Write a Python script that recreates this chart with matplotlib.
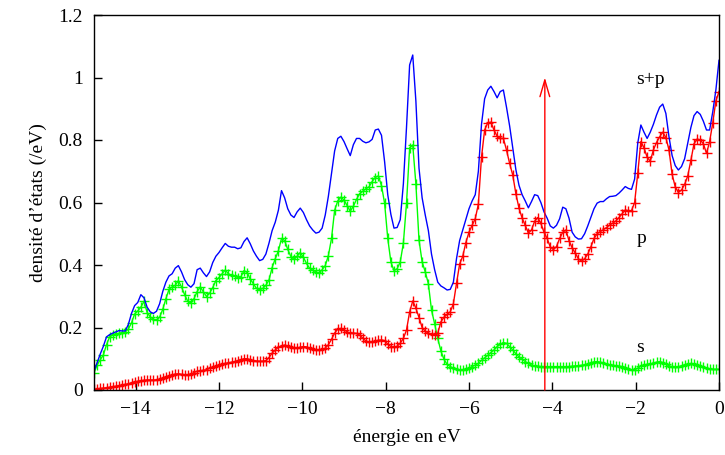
import numpy as np
import matplotlib
matplotlib.use("Agg")
import matplotlib.pyplot as plt

# energy grid (eV), 201 sample points from -15 to 0
energy = np.linspace(-15.0, 0.0, 201)

# s density of states (green)
dos_s = [
    0.055, 0.080, 0.097, 0.112, 0.145, 0.170, 0.176, 0.179, 0.181, 0.183,
    0.186, 0.195, 0.215, 0.243, 0.253, 0.265, 0.284, 0.248, 0.234, 0.226,
    0.224, 0.233, 0.258, 0.292, 0.322, 0.330, 0.335, 0.350, 0.330, 0.305,
    0.284, 0.278, 0.292, 0.315, 0.330, 0.314, 0.299, 0.310, 0.328, 0.350,
    0.360, 0.372, 0.384, 0.372, 0.367, 0.365, 0.360, 0.362, 0.382, 0.376,
    0.355, 0.340, 0.325, 0.321, 0.325, 0.335, 0.352, 0.392, 0.420, 0.445,
    0.485, 0.478, 0.450, 0.427, 0.418, 0.428, 0.440, 0.425, 0.405, 0.389,
    0.384, 0.378, 0.373, 0.385, 0.398, 0.430, 0.485, 0.575, 0.605, 0.617,
    0.608, 0.590, 0.572, 0.588, 0.610, 0.628, 0.636, 0.644, 0.650, 0.667,
    0.680, 0.685, 0.654, 0.597, 0.485, 0.410, 0.382, 0.388, 0.410, 0.470,
    0.597, 0.775, 0.784, 0.660, 0.480, 0.410, 0.378, 0.340, 0.256, 0.212,
    0.165, 0.125, 0.098, 0.082, 0.075, 0.070, 0.066, 0.064, 0.065, 0.067,
    0.070, 0.075, 0.080, 0.085, 0.095, 0.103, 0.111, 0.120, 0.128, 0.139,
    0.146, 0.152, 0.149, 0.139, 0.128, 0.116, 0.106, 0.098, 0.091, 0.085,
    0.080, 0.077, 0.076, 0.075, 0.075, 0.075, 0.075, 0.075, 0.075, 0.075,
    0.075, 0.075, 0.075, 0.076, 0.077, 0.078, 0.079, 0.080, 0.083, 0.087,
    0.090, 0.091, 0.089, 0.086, 0.083, 0.081, 0.079, 0.077, 0.076, 0.075,
    0.072, 0.068, 0.065, 0.065, 0.070, 0.076, 0.080, 0.082, 0.084, 0.086,
    0.089, 0.091, 0.088, 0.083, 0.077, 0.075, 0.075, 0.075, 0.077, 0.080,
    0.083, 0.085, 0.084, 0.081, 0.077, 0.073, 0.069, 0.066, 0.066, 0.066,
    0.066,
]

# p density of states (red)
dos_p = [
    0.002, 0.003, 0.005, 0.006, 0.007, 0.009, 0.011, 0.012, 0.014, 0.015,
    0.018, 0.020, 0.023, 0.026, 0.028, 0.030, 0.031, 0.032, 0.032, 0.032,
    0.032, 0.034, 0.038, 0.042, 0.045, 0.048, 0.051, 0.052, 0.050, 0.049,
    0.048, 0.051, 0.056, 0.060, 0.062, 0.063, 0.065, 0.069, 0.073, 0.076,
    0.079, 0.082, 0.085, 0.087, 0.089, 0.091, 0.094, 0.097, 0.100, 0.100,
    0.097, 0.094, 0.093, 0.092, 0.092, 0.094, 0.104, 0.118, 0.128, 0.137,
    0.141, 0.144, 0.141, 0.137, 0.133, 0.134, 0.137, 0.139, 0.138, 0.134,
    0.130, 0.128, 0.128, 0.130, 0.134, 0.145, 0.162, 0.182, 0.195, 0.197,
    0.193, 0.186, 0.181, 0.182, 0.181, 0.176, 0.166, 0.157, 0.154, 0.153,
    0.156, 0.159, 0.160, 0.158, 0.147, 0.139, 0.137, 0.140, 0.150, 0.165,
    0.192, 0.250, 0.285, 0.262, 0.232, 0.200, 0.188, 0.182, 0.179, 0.176,
    0.182, 0.218, 0.233, 0.242, 0.250, 0.276, 0.341, 0.403, 0.428, 0.472,
    0.505, 0.527, 0.548, 0.595, 0.745, 0.832, 0.855, 0.857, 0.832, 0.812,
    0.805, 0.805, 0.768, 0.725, 0.688, 0.628, 0.582, 0.550, 0.527, 0.502,
    0.512, 0.540, 0.552, 0.533, 0.505, 0.485, 0.458, 0.449, 0.459, 0.485,
    0.505, 0.512, 0.478, 0.455, 0.438, 0.420, 0.412, 0.420, 0.435, 0.458,
    0.485, 0.500, 0.507, 0.513, 0.520, 0.528, 0.534, 0.541, 0.552, 0.564,
    0.576, 0.574, 0.574, 0.600, 0.693, 0.795, 0.775, 0.745, 0.732, 0.768,
    0.792, 0.810, 0.825, 0.808, 0.768, 0.690, 0.650, 0.632, 0.640, 0.658,
    0.685, 0.735, 0.788, 0.803, 0.800, 0.788, 0.757, 0.795, 0.855, 0.925,
    0.955,
]

# total s+p density of states (blue)
dos_sp = [
    0.060, 0.088, 0.115, 0.140, 0.170, 0.177, 0.182, 0.186, 0.190, 0.189,
    0.189, 0.210, 0.245, 0.270, 0.280, 0.305, 0.295, 0.265, 0.250, 0.245,
    0.252, 0.276, 0.315, 0.345, 0.365, 0.372, 0.390, 0.398, 0.378, 0.353,
    0.337, 0.329, 0.340, 0.385, 0.390, 0.375, 0.363, 0.378, 0.408, 0.428,
    0.440, 0.455, 0.469, 0.460, 0.457, 0.457, 0.452, 0.455, 0.475, 0.487,
    0.468, 0.445, 0.428, 0.414, 0.418, 0.435, 0.470, 0.510, 0.537, 0.575,
    0.638, 0.615, 0.580, 0.560, 0.552, 0.570, 0.582, 0.568, 0.545, 0.525,
    0.512, 0.502, 0.505, 0.518, 0.560, 0.620, 0.693, 0.765, 0.805, 0.812,
    0.795, 0.772, 0.750, 0.785, 0.805, 0.805, 0.796, 0.791, 0.794, 0.802,
    0.832, 0.835, 0.815, 0.730, 0.625, 0.562, 0.518, 0.520, 0.545, 0.660,
    0.840, 1.040, 1.072, 0.925, 0.710, 0.615, 0.560, 0.510, 0.435, 0.385,
    0.345, 0.333, 0.327, 0.320, 0.322, 0.345, 0.420, 0.478, 0.512, 0.545,
    0.580, 0.605, 0.625, 0.700, 0.850, 0.932, 0.960, 0.972, 0.955, 0.935,
    0.955, 0.960, 0.905, 0.845, 0.775, 0.705, 0.655, 0.625, 0.605, 0.583,
    0.603, 0.625, 0.622, 0.600, 0.570, 0.550, 0.525, 0.518, 0.527, 0.548,
    0.585, 0.580, 0.550, 0.505, 0.490, 0.483, 0.484, 0.500, 0.525, 0.552,
    0.580, 0.598, 0.603, 0.603, 0.612, 0.619, 0.620, 0.622, 0.630, 0.640,
    0.651, 0.645, 0.642, 0.675, 0.790, 0.848, 0.825, 0.805, 0.825, 0.850,
    0.880, 0.905, 0.915, 0.885, 0.810, 0.750, 0.718, 0.704, 0.715, 0.740,
    0.790, 0.840, 0.878, 0.891, 0.882, 0.860, 0.832, 0.832, 0.890, 0.960,
    1.055,
]

fermi_level = -4.18
arrow_top = 1.0

xticks = [-14, -12, -10, -8, -6, -4, -2, 0]
xtick_labels = ["\u221214", "\u221212", "\u221210", "\u22128", "\u22126", "\u22124", "\u22122", "0"]
yticks = [0, 0.2, 0.4, 0.6, 0.8, 1.0, 1.2]
ytick_labels = ["0", "0.2", "0.4", "0.6", "0.8", "1", "1.2"]

plt.rcParams['font.family'] = ['Liberation Serif', 'DejaVu Serif']
fs = 14

fig = plt.figure(figsize=(7.25, 4.55), dpi=100)
ax = fig.add_axes([94/725, 65/455, 625/725, 375/455])

ax.plot(energy, dos_s, color='#00ff00', lw=1.0, marker='+', ms=7.5, mew=1.0)
ax.plot(energy, dos_p, color='#ff0000', lw=1.0, marker='+', ms=7.5, mew=1.0)
ax.plot(energy, dos_sp, color='#0000ff', lw=1.0)

ax.annotate('', xy=(fermi_level, arrow_top), xytext=(fermi_level, 0),
            arrowprops=dict(arrowstyle='->,head_length=1.2,head_width=0.35',
                            color='#ff0000', lw=1.0, shrinkA=0, shrinkB=0))

ax.text(-1.98, 0.978, 's+p', fontsize=fs, va='baseline', ha='left')
ax.text(-1.98, 0.47, 'p', fontsize=fs, va='baseline', ha='left')
ax.text(-1.98, 0.123, 's', fontsize=fs, va='baseline', ha='left')

ax.set_xlim(-15, 0)
ax.set_ylim(0, 1.2)
ax.set_xticks(xticks)
ax.set_xticklabels(xtick_labels)
ax.set_yticks(yticks)
ax.set_yticklabels(ytick_labels)
ax.tick_params(direction='in', length=6, width=1, labelsize=fs, pad=8)
ax.set_xlabel('énergie en eV', fontsize=fs, labelpad=8)
ax.set_ylabel('densité d’états (/eV)', fontsize=fs, labelpad=8)
for sp in ax.spines.values():
    sp.set_linewidth(1.0)

fig.savefig('out.png', dpi=100)
